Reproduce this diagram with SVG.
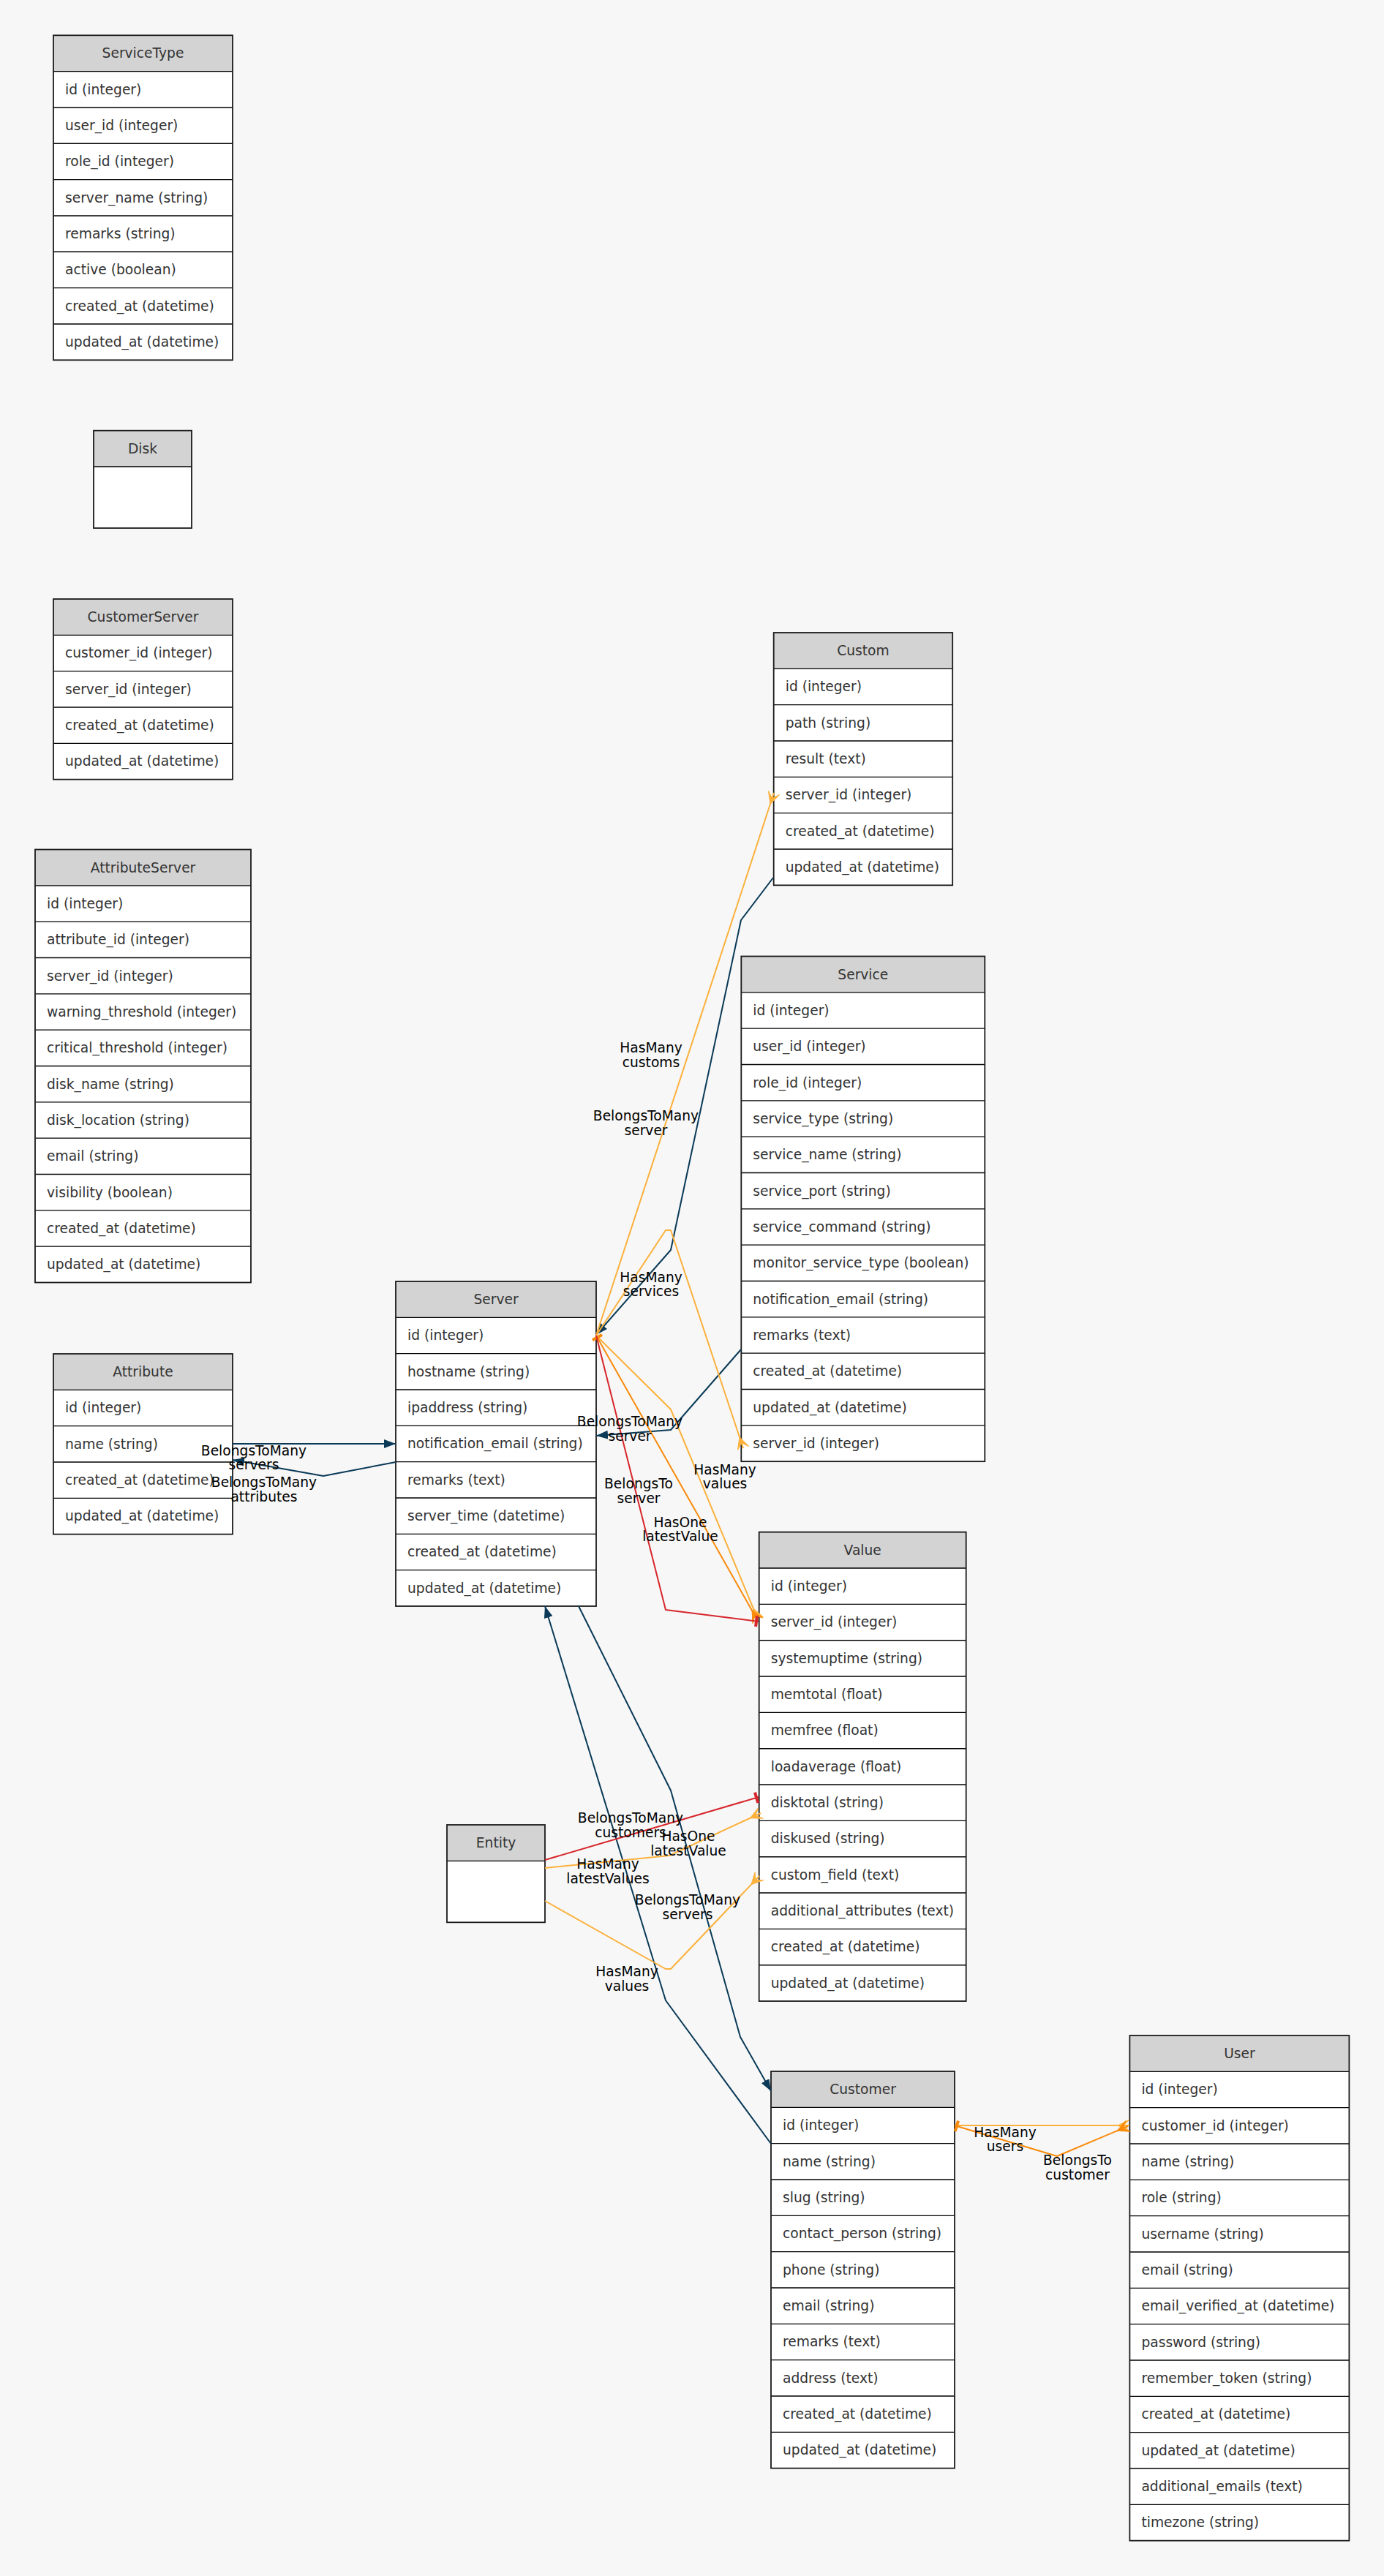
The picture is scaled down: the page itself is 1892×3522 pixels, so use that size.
<svg xmlns="http://www.w3.org/2000/svg" width="1892" height="3522" viewBox="0 0 1892 3522">
  <style>
    .hd { fill: #d3d3d3; }
    .bd { fill: #ffffff; }
    .fr { fill: none; stroke: #1a1a1a; stroke-width: 1.8; }
    .sp { fill: none; stroke: #000000; stroke-width: 1.4; }
    .f { font-family: "DejaVu Sans", "Noto Sans", sans-serif; font-size: 18.67px; fill: #333333; }
    .h { text-anchor: middle; }
    .lbl { font-family: "DejaVu Sans", "Noto Sans", sans-serif; font-size: 18.67px; fill: #000000; text-anchor: middle; }
    .e { fill: none; stroke-width: 2; stroke-linejoin: round; }
    .nv { stroke: #0a3a57; }
    .lo { stroke: #fbb13c; }
    .do { stroke: #fa8a0a; }
    .rd { stroke: #d7262b; }
  </style>
  <defs>
    <!-- filled arrowhead -->
    <marker id="arrow-nv" viewBox="0 0 16 12" refX="16" refY="6" markerWidth="16" markerHeight="12" orient="auto" markerUnits="userSpaceOnUse">
      <path d="M0,0 L16,6 L0,12 Z" fill="#0a3a57"/>
    </marker>
    <!-- crow's foot heads -->
    <marker id="crow-lo" viewBox="-1 -10 18 20" refX="16" refY="0" markerWidth="18" markerHeight="20" orient="auto" markerUnits="userSpaceOnUse">
      <path d="M0,0 L16,-8 L8,0 L16,0 L8,0 L16,8 Z" fill="#fbb13c" stroke="#fbb13c" stroke-width="1"/>
    </marker>
    <marker id="crow-do" viewBox="-1 -10 18 20" refX="16" refY="0" markerWidth="18" markerHeight="20" orient="auto" markerUnits="userSpaceOnUse">
      <path d="M0,0 L16,-8 L8,0 L16,0 L8,0 L16,8 Z" fill="#fa8a0a" stroke="#fa8a0a" stroke-width="1"/>
    </marker>
    <!-- tee bars -->
    <marker id="tee-do" viewBox="-1 -10 18 20" refX="16" refY="0" markerWidth="18" markerHeight="20" orient="auto-start-reverse" markerUnits="userSpaceOnUse">
      <rect x="11" y="-7.5" width="4" height="15" fill="#fa8a0a"/>
    </marker>
    <marker id="tee-rd" viewBox="-1 -10 18 20" refX="16" refY="0" markerWidth="18" markerHeight="20" orient="auto" markerUnits="userSpaceOnUse">
      <rect x="11" y="-7.5" width="4" height="15" fill="#d7262b"/>
    </marker>
  </defs>

  <rect width="1892" height="3522" fill="#f7f7f7"/>

  <g id="nodes">
    <g id="node-ServiceType" transform="translate(73,48.3)">
      <rect class="hd" width="245" height="49.33"/>
      <rect class="bd" y="49.33" width="245" height="394.67"/>
      <path class="sp" d="M0,49.33h245M0,98.67h245M0,148h245M0,197.33h245M0,246.67h245M0,296h245M0,345.33h245M0,394.67h245"/>
      <rect class="fr" width="245" height="444"/>
      <text class="f h" x="122.5" y="31">ServiceType</text>
      <text class="f" x="16" y="80.33">id (integer)</text>
      <text class="f" x="16" y="129.67">user_id (integer)</text>
      <text class="f" x="16" y="179">role_id (integer)</text>
      <text class="f" x="16" y="228.33">server_name (string)</text>
      <text class="f" x="16" y="277.67">remarks (string)</text>
      <text class="f" x="16" y="327">active (boolean)</text>
      <text class="f" x="16" y="376.33">created_at (datetime)</text>
      <text class="f" x="16" y="425.67">updated_at (datetime)</text>
    </g>

    <g id="node-Disk" transform="translate(128,588.7)">
      <rect class="hd" width="134" height="49.33"/>
      <rect class="bd" y="49.33" width="134" height="84"/>
      <path class="sp" d="M0,49.33h134"/>
      <rect class="fr" width="134" height="133.33"/>
      <text class="f h" x="67" y="31">Disk</text>
    </g>

    <g id="node-CustomerServer" transform="translate(73,819)">
      <rect class="hd" width="245" height="49.33"/>
      <rect class="bd" y="49.33" width="245" height="197.33"/>
      <path class="sp" d="M0,49.33h245M0,98.67h245M0,148h245M0,197.33h245"/>
      <rect class="fr" width="245" height="246.67"/>
      <text class="f h" x="122.5" y="31">CustomerServer</text>
      <text class="f" x="16" y="80.33">customer_id (integer)</text>
      <text class="f" x="16" y="129.67">server_id (integer)</text>
      <text class="f" x="16" y="179">created_at (datetime)</text>
      <text class="f" x="16" y="228.33">updated_at (datetime)</text>
    </g>

    <g id="node-AttributeServer" transform="translate(48,1161.5)">
      <rect class="hd" width="295" height="49.33"/>
      <rect class="bd" y="49.33" width="295" height="542.67"/>
      <path class="sp" d="M0,49.33h295M0,98.67h295M0,148h295M0,197.33h295M0,246.67h295M0,296h295M0,345.33h295M0,394.67h295M0,444h295M0,493.33h295M0,542.67h295"/>
      <rect class="fr" width="295" height="592"/>
      <text class="f h" x="147.5" y="31">AttributeServer</text>
      <text class="f" x="16" y="80.33">id (integer)</text>
      <text class="f" x="16" y="129.67">attribute_id (integer)</text>
      <text class="f" x="16" y="179">server_id (integer)</text>
      <text class="f" x="16" y="228.33">warning_threshold (integer)</text>
      <text class="f" x="16" y="277.67">critical_threshold (integer)</text>
      <text class="f" x="16" y="327">disk_name (string)</text>
      <text class="f" x="16" y="376.33">disk_location (string)</text>
      <text class="f" x="16" y="425.67">email (string)</text>
      <text class="f" x="16" y="475">visibility (boolean)</text>
      <text class="f" x="16" y="524.33">created_at (datetime)</text>
      <text class="f" x="16" y="573.67">updated_at (datetime)</text>
    </g>

    <g id="node-Attribute" transform="translate(73,1851)">
      <rect class="hd" width="245" height="49.33"/>
      <rect class="bd" y="49.33" width="245" height="197.33"/>
      <path class="sp" d="M0,49.33h245M0,98.67h245M0,148h245M0,197.33h245"/>
      <rect class="fr" width="245" height="246.67"/>
      <text class="f h" x="122.5" y="31">Attribute</text>
      <text class="f" x="16" y="80.33">id (integer)</text>
      <text class="f" x="16" y="129.67">name (string)</text>
      <text class="f" x="16" y="179">created_at (datetime)</text>
      <text class="f" x="16" y="228.33">updated_at (datetime)</text>
    </g>

    <g id="node-Server" transform="translate(541,1752)">
      <rect class="hd" width="274" height="49.33"/>
      <rect class="bd" y="49.33" width="274" height="394.67"/>
      <path class="sp" d="M0,49.33h274M0,98.67h274M0,148h274M0,197.33h274M0,246.67h274M0,296h274M0,345.33h274M0,394.67h274"/>
      <rect class="fr" width="274" height="444"/>
      <text class="f h" x="137" y="31">Server</text>
      <text class="f" x="16" y="80.33">id (integer)</text>
      <text class="f" x="16" y="129.67">hostname (string)</text>
      <text class="f" x="16" y="179">ipaddress (string)</text>
      <text class="f" x="16" y="228.33">notification_email (string)</text>
      <text class="f" x="16" y="277.67">remarks (text)</text>
      <text class="f" x="16" y="327">server_time (datetime)</text>
      <text class="f" x="16" y="376.33">created_at (datetime)</text>
      <text class="f" x="16" y="425.67">updated_at (datetime)</text>
    </g>

    <g id="node-Custom" transform="translate(1057.7,865)">
      <rect class="hd" width="244.5" height="49.33"/>
      <rect class="bd" y="49.33" width="244.5" height="296"/>
      <path class="sp" d="M0,49.33h244.5M0,98.67h244.5M0,148h244.5M0,197.33h244.5M0,246.67h244.5M0,296h244.5"/>
      <rect class="fr" width="244.5" height="345.33"/>
      <text class="f h" x="122.25" y="31">Custom</text>
      <text class="f" x="16" y="80.33">id (integer)</text>
      <text class="f" x="16" y="129.67">path (string)</text>
      <text class="f" x="16" y="179">result (text)</text>
      <text class="f" x="16" y="228.33">server_id (integer)</text>
      <text class="f" x="16" y="277.67">created_at (datetime)</text>
      <text class="f" x="16" y="327">updated_at (datetime)</text>
    </g>

    <g id="node-Service" transform="translate(1013.3,1307.5)">
      <rect class="hd" width="333" height="49.33"/>
      <rect class="bd" y="49.33" width="333" height="641.33"/>
      <path class="sp" d="M0,49.33h333M0,98.67h333M0,148h333M0,197.33h333M0,246.67h333M0,296h333M0,345.33h333M0,394.67h333M0,444h333M0,493.33h333M0,542.67h333M0,592h333M0,641.33h333"/>
      <rect class="fr" width="333" height="690.67"/>
      <text class="f h" x="166.5" y="31">Service</text>
      <text class="f" x="16" y="80.33">id (integer)</text>
      <text class="f" x="16" y="129.67">user_id (integer)</text>
      <text class="f" x="16" y="179">role_id (integer)</text>
      <text class="f" x="16" y="228.33">service_type (string)</text>
      <text class="f" x="16" y="277.67">service_name (string)</text>
      <text class="f" x="16" y="327">service_port (string)</text>
      <text class="f" x="16" y="376.33">service_command (string)</text>
      <text class="f" x="16" y="425.67">monitor_service_type (boolean)</text>
      <text class="f" x="16" y="475">notification_email (string)</text>
      <text class="f" x="16" y="524.33">remarks (text)</text>
      <text class="f" x="16" y="573.67">created_at (datetime)</text>
      <text class="f" x="16" y="623">updated_at (datetime)</text>
      <text class="f" x="16" y="672.33">server_id (integer)</text>
    </g>

    <g id="node-Value" transform="translate(1037.7,2094.7)">
      <rect class="hd" width="283" height="49.33"/>
      <rect class="bd" y="49.33" width="283" height="592"/>
      <path class="sp" d="M0,49.33h283M0,98.67h283M0,148h283M0,197.33h283M0,246.67h283M0,296h283M0,345.33h283M0,394.67h283M0,444h283M0,493.33h283M0,542.67h283M0,592h283"/>
      <rect class="fr" width="283" height="641.33"/>
      <text class="f h" x="141.5" y="31">Value</text>
      <text class="f" x="16" y="80.33">id (integer)</text>
      <text class="f" x="16" y="129.67">server_id (integer)</text>
      <text class="f" x="16" y="179">systemuptime (string)</text>
      <text class="f" x="16" y="228.33">memtotal (float)</text>
      <text class="f" x="16" y="277.67">memfree (float)</text>
      <text class="f" x="16" y="327">loadaverage (float)</text>
      <text class="f" x="16" y="376.33">disktotal (string)</text>
      <text class="f" x="16" y="425.67">diskused (string)</text>
      <text class="f" x="16" y="475">custom_field (text)</text>
      <text class="f" x="16" y="524.33">additional_attributes (text)</text>
      <text class="f" x="16" y="573.67">created_at (datetime)</text>
      <text class="f" x="16" y="623">updated_at (datetime)</text>
    </g>

    <g id="node-Entity" transform="translate(611,2495)">
      <rect class="hd" width="134" height="49.33"/>
      <rect class="bd" y="49.33" width="134" height="84"/>
      <path class="sp" d="M0,49.33h134"/>
      <rect class="fr" width="134" height="133.33"/>
      <text class="f h" x="67" y="31">Entity</text>
    </g>

    <g id="node-Customer" transform="translate(1054,2832)">
      <rect class="hd" width="251" height="49.33"/>
      <rect class="bd" y="49.33" width="251" height="493.33"/>
      <path class="sp" d="M0,49.33h251M0,98.67h251M0,148h251M0,197.33h251M0,246.67h251M0,296h251M0,345.33h251M0,394.67h251M0,444h251M0,493.33h251"/>
      <rect class="fr" width="251" height="542.67"/>
      <text class="f h" x="125.5" y="31">Customer</text>
      <text class="f" x="16" y="80.33">id (integer)</text>
      <text class="f" x="16" y="129.67">name (string)</text>
      <text class="f" x="16" y="179">slug (string)</text>
      <text class="f" x="16" y="228.33">contact_person (string)</text>
      <text class="f" x="16" y="277.67">phone (string)</text>
      <text class="f" x="16" y="327">email (string)</text>
      <text class="f" x="16" y="376.33">remarks (text)</text>
      <text class="f" x="16" y="425.67">address (text)</text>
      <text class="f" x="16" y="475">created_at (datetime)</text>
      <text class="f" x="16" y="524.33">updated_at (datetime)</text>
    </g>

    <g id="node-User" transform="translate(1544.4,2783)">
      <rect class="hd" width="300" height="49.33"/>
      <rect class="bd" y="49.33" width="300" height="641.33"/>
      <path class="sp" d="M0,49.33h300M0,98.67h300M0,148h300M0,197.33h300M0,246.67h300M0,296h300M0,345.33h300M0,394.67h300M0,444h300M0,493.33h300M0,542.67h300M0,592h300M0,641.33h300"/>
      <rect class="fr" width="300" height="690.67"/>
      <text class="f h" x="150" y="31">User</text>
      <text class="f" x="16" y="80.33">id (integer)</text>
      <text class="f" x="16" y="129.67">customer_id (integer)</text>
      <text class="f" x="16" y="179">name (string)</text>
      <text class="f" x="16" y="228.33">role (string)</text>
      <text class="f" x="16" y="277.67">username (string)</text>
      <text class="f" x="16" y="327">email (string)</text>
      <text class="f" x="16" y="376.33">email_verified_at (datetime)</text>
      <text class="f" x="16" y="425.67">password (string)</text>
      <text class="f" x="16" y="475">remember_token (string)</text>
      <text class="f" x="16" y="524.33">created_at (datetime)</text>
      <text class="f" x="16" y="573.67">updated_at (datetime)</text>
      <text class="f" x="16" y="623">additional_emails (text)</text>
      <text class="f" x="16" y="672.33">timezone (string)</text>
    </g>
  </g>

  <g id="connectors">
    <!-- navy: BelongsToMany / HasMany -->
    <path id="e-attribute-server" class="e nv" d="M318,1974 L541,1974" marker-end="url(#arrow-nv)"/>
    <path id="e-server-attribute" class="e nv" d="M541,1999 L442,2018 L318,1996" marker-end="url(#arrow-nv)"/>
    <path id="e-custom-server" class="e nv" d="M1057,1200 L1013,1258 L917,1709 L815,1825" marker-end="url(#arrow-nv)"/>
    <path id="e-service-server" class="e nv" d="M1013,1845 L917,1955 L815,1963" marker-end="url(#arrow-nv)"/>
    <path id="e-server-customer" class="e nv" d="M791,2196 L917,2448 L1012,2785 L1054,2859" marker-end="url(#arrow-nv)"/>
    <path id="e-customer-server" class="e nv" d="M1054,2931 L910,2735 L745,2196" marker-end="url(#arrow-nv)"/>

    <!-- light orange: HasMany -->
    <path id="e-server-custom" class="e lo" d="M815,1826 L1058,1084" marker-end="url(#crow-lo)"/>
    <path id="e-server-service" class="e lo" d="M815,1826 L910,1682 L917,1682 L1016,1980" marker-end="url(#crow-lo)"/>
    <path id="e-server-values" class="e lo" d="M815,1826 L917,1927 L1036,2214" marker-end="url(#crow-lo)"/>
    <path id="e-entity-latestvalues" class="e lo" d="M745,2554 L915,2537 L1040,2479" marker-end="url(#crow-lo)"/>
    <path id="e-entity-values" class="e lo" d="M745,2599 L910,2692 L917,2692 L1038,2565" marker-end="url(#crow-lo)"/>
    <path id="e-customer-users" class="e lo" d="M1305,2906 L1544,2906" marker-end="url(#crow-lo)"/>

    <!-- dark orange: HasOne / BelongsTo -->
    <path id="e-server-latestvalue" class="e do" d="M815,1826 L1036,2216" marker-start="url(#tee-do)" marker-end="url(#crow-do)"/>
    <path id="e-user-customer" class="e do" d="M1305,2906 L1445,2948 L1542,2907" marker-start="url(#tee-do)" marker-end="url(#crow-do)"/>

    <!-- red: BelongsTo -->
    <path id="e-value-server" class="e rd" d="M815,1826 L910,2201 L1037,2217" marker-end="url(#tee-rd)"/>
    <path id="e-entity-customers" class="e rd" d="M745,2543 L1037,2457" marker-end="url(#tee-rd)"/>
  </g>

  <g id="connector-labels">
    <text class="lbl"><tspan x="347" y="1989.5">BelongsToMany</tspan><tspan x="347" y="2008.5">servers</tspan></text>
    <text class="lbl"><tspan x="361" y="2032.5">BelongsToMany</tspan><tspan x="361" y="2052.5">attributes</tspan></text>
    <text class="lbl"><tspan x="890" y="1438.5">HasMany</tspan><tspan x="890" y="1458.5">customs</tspan></text>
    <text class="lbl"><tspan x="883" y="1531.5">BelongsToMany</tspan><tspan x="883" y="1551.5">server</tspan></text>
    <text class="lbl"><tspan x="890" y="1752.5">HasMany</tspan><tspan x="890" y="1771.5">services</tspan></text>
    <text class="lbl"><tspan x="861" y="1949.5">BelongsToMany</tspan><tspan x="861" y="1969.5">server</tspan></text>
    <text class="lbl"><tspan x="991" y="2015.5">HasMany</tspan><tspan x="991" y="2034.5">values</tspan></text>
    <text class="lbl"><tspan x="873" y="2034.5">BelongsTo</tspan><tspan x="873" y="2054.5">server</tspan></text>
    <text class="lbl"><tspan x="930" y="2087.5">HasOne</tspan><tspan x="930" y="2106.5">latestValue</tspan></text>
    <text class="lbl"><tspan x="862" y="2491.5">BelongsToMany</tspan><tspan x="862" y="2511.5">customers</tspan></text>
    <text class="lbl"><tspan x="941" y="2516.5">HasOne</tspan><tspan x="941" y="2536.5">latestValue</tspan></text>
    <text class="lbl"><tspan x="831" y="2554.5">HasMany</tspan><tspan x="831" y="2574.5">latestValues</tspan></text>
    <text class="lbl"><tspan x="940" y="2603.5">BelongsToMany</tspan><tspan x="940" y="2623.5">servers</tspan></text>
    <text class="lbl"><tspan x="857" y="2701.5">HasMany</tspan><tspan x="857" y="2721.5">values</tspan></text>
    <text class="lbl"><tspan x="1374" y="2921.5">HasMany</tspan><tspan x="1374" y="2940.5">users</tspan></text>
    <text class="lbl"><tspan x="1473" y="2959.5">BelongsTo</tspan><tspan x="1473" y="2979.5">customer</tspan></text>
  </g>
</svg>
